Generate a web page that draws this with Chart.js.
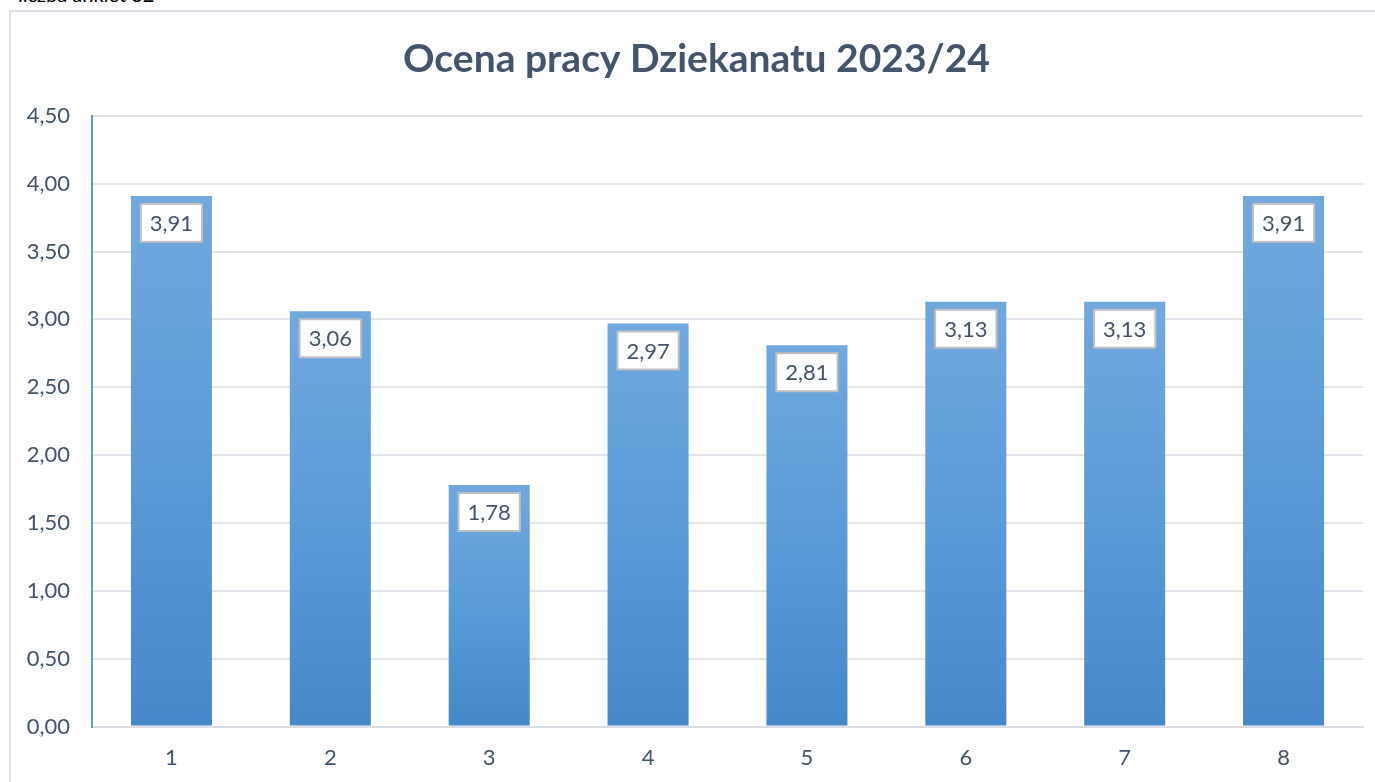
<!DOCTYPE html>
<html>
<head>
<meta charset="utf-8">
<script src="https://cdn.jsdelivr.net/npm/chart.js@4/dist/chart.umd.min.js"></script>
<style>
    body { margin: 0; background: #ffffff; overflow: hidden; }
    .note { position: absolute; left: 18px; top: -18px; font: 20px Lato, sans-serif; color: #000; }
    .frame { position: absolute; left: 9px; top: 10px; width: 1400px; height: 800px; border: 2px solid #dde3ea; box-sizing: border-box; }
    .wrap { position: absolute; left: 0; top: 0; width: 1375px; height: 782px; }
</style>
</head>
<body>
<div class="note">liczba ankiet 32</div>
<div class="frame"></div>
<div class="wrap"><canvas id="chart"></canvas></div>
<script>
const categories = ['1', '2', '3', '4', '5', '6', '7', '8'];
const values = [3.91, 3.06, 1.78, 2.97, 2.81, 3.13, 3.13, 3.91];
const chartTitle = 'Ocena pracy Dziekanatu 2023/24';

const textColor = '#44546a';
const fmt = v => v.toFixed(2).replace('.', ',');

// gradient per bar: lighter at the top, darker at the bottom
function barGradient(ctx) {
    const chart = ctx.chart;
    const area = chart.chartArea;
    const yScale = chart.scales.y;
    if (!area || !yScale) return '#5b9bd5';
    const top = yScale.getPixelForValue(values[ctx.dataIndex]);
    if (!isFinite(top) || !isFinite(area.bottom)) return '#5b9bd5';
    const g = chart.ctx.createLinearGradient(0, top, 0, area.bottom);
    g.addColorStop(0, '#71a8de');
    g.addColorStop(0.5, '#5a9bd8');
    g.addColorStop(1, '#4588c9');
    return g;
}

// title sits a bit right of the canvas centre in the original
const titleShift = {
    id: 'titleShift',
    afterLayout(chart) {
        const t = chart.titleBlock;
        if (t) {
            t.left += 15;
            t.right += 15;
        }
    }
};

// boxed value labels inside the top of the bars
const valueBoxes = {
    id: 'valueBoxes',
    afterDatasetsDraw(chart) {
        const ctx = chart.ctx;
        const meta = chart.getDatasetMeta(0);
        ctx.save();
        ctx.font = '22px Lato, sans-serif';
        ctx.textAlign = 'center';
        ctx.textBaseline = 'middle';
        meta.data.forEach((bar, i) => {
            const txt = fmt(values[i]);
            const w = ctx.measureText(txt).width + 18;
            const h = 38;
            const x = bar.x - w / 2;
            const y = bar.y + 8;
            ctx.fillStyle = '#ffffff';
            ctx.fillRect(x, y, w, h);
            ctx.strokeStyle = '#bfbfbf';
            ctx.lineWidth = 2;
            ctx.strokeRect(x, y, w, h);
            ctx.fillStyle = textColor;
            ctx.fillText(txt, bar.x, y + h / 2 + 1);
        });
        ctx.restore();
    }
};

new Chart(document.getElementById('chart'), {
    type: 'bar',
    data: {
        labels: categories,
        datasets: [{
            data: values,
            backgroundColor: barGradient,
            borderWidth: 0,
            barPercentage: 0.51,
            categoryPercentage: 1
        }]
    },
    options: {
        responsive: true,
        maintainAspectRatio: false,
        animation: false,
        layout: {
            padding: {left: 0, right: 12, top: 0, bottom: -7}
        },
        plugins: {
            legend: {display: false},
            tooltip: {enabled: false},
            title: {
                display: true,
                text: chartTitle,
                color: textColor,
                font: {size: 39, weight: 'bold', family: 'Lato, sans-serif'},
                padding: {top: 36, bottom: 33}
            }
        },
        scales: {
            x: {
                grid: {display: false, drawTicks: false},
                border: {color: '#d9dde3', width: 2},
                ticks: {
                    color: textColor,
                    font: {size: 22, family: 'Lato, sans-serif'},
                    padding: 18
                }
            },
            y: {
                min: 0,
                max: 4.5,
                afterFit(scale) { scale.width = 92; },
                grid: {color: '#e2e6ec', lineWidth: 2, drawTicks: false},
                border: {color: '#5b9bd5', width: 2},
                ticks: {
                    stepSize: 0.5,
                    color: textColor,
                    font: {size: 22, family: 'Lato, sans-serif'},
                    padding: 22,
                    callback: v => fmt(v)
                }
            }
        }
    },
    plugins: [titleShift, valueBoxes]
});
</script>
</body>
</html>
